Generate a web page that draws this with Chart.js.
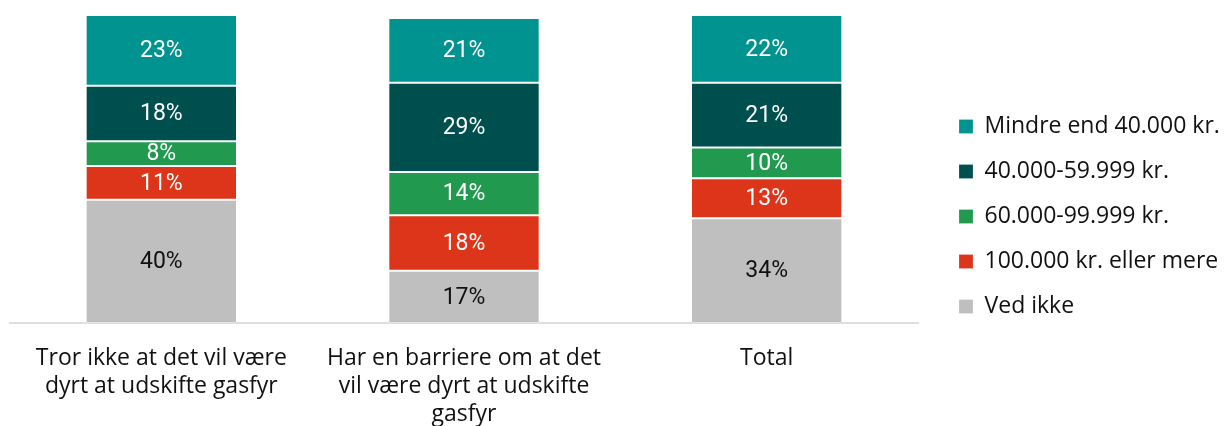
<!DOCTYPE html>
<html>
<head>
<meta charset="utf-8">
<script src="https://cdn.jsdelivr.net/npm/chart.js@4/dist/chart.umd.min.js"></script>
<style>
  html, body { margin: 0; padding: 0; background: #fff; }
  #wrap { width: 1228px; height: 426px; position: relative; }
</style>
</head>
<body>
<div id="wrap"><canvas id="chart"></canvas></div>
<script>
// categories (x axis), pre-wrapped as in the original
const categories = [
    ['Tror ikke at det vil være', 'dyrt at udskifte gasfyr'],
    ['Har en barriere om at det', 'vil være dyrt at udskifte', 'gasfyr'],
    'Total'
];

// series, bottom to top of the stack
const vedIkke = [40, 17, 34];
const over100k = [11, 18, 13];
const from60k = [8, 14, 10];
const from40k = [18, 29, 21];
const under40k = [23, 21, 22];

const seriesNames = ['Ved ikke', '100.000 kr. eller mere', '60.000-99.999 kr.', '40.000-59.999 kr.', 'Mindre end 40.000 kr.'];
const seriesColors = ['#bfbfbf', '#dc3519', '#219a4f', '#004f4f', '#009390'];
const labelColors = ['#111111', '#ffffff', '#ffffff', '#ffffff', '#ffffff'];

const FONT = '"Open Sans", "Noto Sans", sans-serif';
const LEGEND_WIDTH = 310;  // plot ends at ~918px
const LEGEND_SHIFT = 19;   // push legend items right
const LEGEND_LIFT = 4;     // move legend a little up

// draws the percentage inside each segment
const segmentLabels = {
    id: 'segmentLabels',
    afterDatasetsDraw(chart) {
        const ctx = chart.ctx;
        ctx.save();
        ctx.font = '23px Roboto, sans-serif';
        ctx.textAlign = 'center';
        ctx.textBaseline = 'middle';
        chart.data.datasets.forEach((ds, i) => {
            const meta = chart.getDatasetMeta(i);
            meta.data.forEach((bar, j) => {
                const p = bar.getProps(['x', 'y', 'base'], true);
                ctx.fillStyle = labelColors[i];
                ctx.fillText(ds.data[j] + '%', p.x, (p.y + p.base) / 2 + 1);
            });
        });
        ctx.restore();
    }
};

// fixed legend width so the plot keeps its size
const legendPlace = {
    id: 'legendPlace',
    beforeInit(chart) {
        const fit = chart.legend.fit;
        chart.legend.fit = function() {
            fit.call(this);
            this.width = LEGEND_WIDTH;
        };
    },
    afterLayout(chart) {
        const l = chart.legend;
        l.left += LEGEND_SHIFT;
        l.right += LEGEND_SHIFT;
        l.top -= LEGEND_LIFT;
        l.bottom -= LEGEND_LIFT;
    }
};

const seriesData = [vedIkke, over100k, from60k, from40k, under40k];

new Chart(document.getElementById('chart'), {
    type: 'bar',
    data: {
        labels: categories,
        datasets: seriesData.map((d, i) => ({
            label: seriesNames[i],
            data: d,
            backgroundColor: seriesColors[i],
            borderColor: 'rgba(255,255,255,0.2)',
            borderWidth: 1,
            borderSkipped: false,
            categoryPercentage: 0.5,
            barPercentage: 1
        }))
    },
    options: {
        responsive: true,
        maintainAspectRatio: false,
        animation: false,
        layout: { padding: { left: 10, top: 15, right: 0, bottom: 0 } },
        scales: {
            x: {
                stacked: true,
                grid: { display: false },
                border: { display: true, color: '#dedede', width: 2 },
                afterFit(scale) { scale.height = 103; },
                ticks: {
                    color: '#111111',
                    font: { family: FONT, size: 23, lineHeight: 1.22 },
                    maxRotation: 0,
                    autoSkip: false,
                    padding: 13
                }
            },
            y: {
                stacked: true,
                display: false,
                min: 0,
                max: 100
            }
        },
        plugins: {
            tooltip: { enabled: false },
            legend: {
                position: 'right',
                reverse: true,
                labels: {
                    color: '#111111',
                    font: { family: FONT, size: 23 },
                    boxWidth: 14,
                    boxHeight: 14,
                    padding: 22
                }
            }
        }
    },
    plugins: [segmentLabels, legendPlace]
});
</script>
</body>
</html>
